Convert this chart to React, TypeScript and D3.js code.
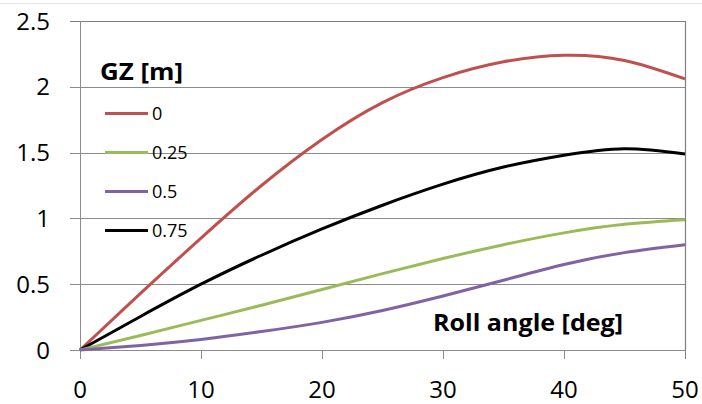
import React from "react";
import * as d3 from "d3";

const angles = [0, 5, 10, 15, 20, 25, 30, 35, 40, 45, 50];
const gz0 = [0, 0.43, 0.85, 1.25, 1.6, 1.88, 2.07, 2.19, 2.24, 2.2, 2.06];
const gz025 = [0, 0.11, 0.225, 0.34, 0.46, 0.58, 0.695, 0.8, 0.89, 0.955, 0.99];
const gz05 = [0, 0.035, 0.08, 0.14, 0.21, 0.3, 0.41, 0.53, 0.65, 0.74, 0.8];
const gz075 = [0, 0.255, 0.5, 0.72, 0.92, 1.1, 1.26, 1.39, 1.48, 1.53, 1.49];
const seriesNames = ["0", "0.25", "0.5", "0.75"];
const seriesColors = ["#C0504D", "#9BBB59", "#8064A2", "#000000"];
const xTicks = [0, 10, 20, 30, 40, 50];
const yTicks = [0, 0.5, 1, 1.5, 2, 2.5];

const W = 702, H = 404;
const L = 80, R = 685, T = 21, B = 350;
const FONT = "'Open Sans', 'Noto Sans', sans-serif";

export default function App() {
  const x = d3.scaleLinear().domain([0, 50]).range([L, R]);
  const y = d3.scaleLinear().domain([0, 2.5]).range([B, T]);
  const allSeries = [gz0, gz025, gz05, gz075];
  const line = d3
    .line<number>()
    .x((_, i) => x(angles[i]))
    .y((d) => y(d))
    .curve(d3.curveNatural);
  const drawOrder = [0, 3, 1, 2];
  return (
    <svg width={W} height={H} style={{ position: "absolute", left: 0, top: 0, background: "#fff" }}>
      <line x1={0} x2={W} y1={3.5} y2={3.5} stroke="#e6e6e6" strokeWidth={1} />
      {yTicks.map((t) => (
        <g key={"y" + t}>
          <line x1={70} x2={R} y1={Math.round(y(t)) + 0.5} y2={Math.round(y(t)) + 0.5} stroke={t === 2.5 ? "#7f7f7f" : "#8c8c8c"} strokeWidth={1} />
          <text x={50} y={y(t)} dy="0.36em" textAnchor="end" fontFamily={FONT} fontSize={24} fill="#000">
            {t}
          </text>
        </g>
      ))}
      {xTicks.map((t) => (
        <g key={"x" + t}>
          <line x1={Math.round(x(t)) + 0.5} x2={Math.round(x(t)) + 0.5} y1={t === 0 ? T : B} y2={359} stroke={t === 50 ? "#7f7f7f" : "#8c8c8c"} strokeWidth={1} />
          <text x={x(t)} y={398} textAnchor="middle" fontFamily={FONT} fontSize={24} fill="#000">
            {t}
          </text>
        </g>
      ))}
      <line x1={R + 0.5} x2={R + 0.5} y1={T} y2={B} stroke="#7f7f7f" strokeWidth={1.2} />
      {drawOrder.map((si) => (
        <path key={"s" + si} d={line(allSeries[si]) || ""} fill="none" stroke={seriesColors[si]} strokeWidth={3} />
      ))}
      <text x={100} y={80} fontFamily={FONT} fontWeight="bold" fontSize={24} textLength={83} lengthAdjust="spacingAndGlyphs" fill="#000">
        GZ [m]
      </text>
      {seriesNames.map((n, i) => (
        <g key={"l" + n}>
          <line x1={105} x2={148} y1={113.5 + i * 39} y2={113.5 + i * 39} stroke={seriesColors[i]} strokeWidth={3} />
          <text x={152} y={113.5 + i * 39} dy="0.36em" fontFamily={FONT} fontSize={18} fill="#000">
            {n}
          </text>
        </g>
      ))}
      <text x={433} y={331} fontFamily={FONT} fontWeight="bold" fontSize={24} textLength={190} lengthAdjust="spacingAndGlyphs" fill="#000">
        Roll angle [deg]
      </text>
    </svg>
  );
}
